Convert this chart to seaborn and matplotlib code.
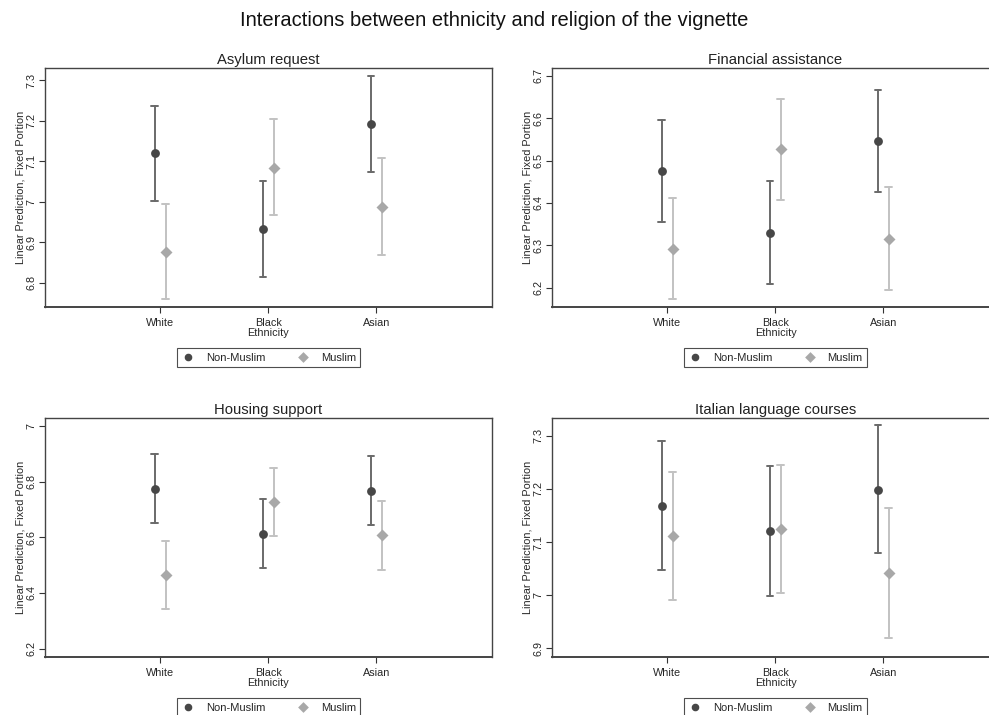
import numpy as np
import pandas as pd
import matplotlib
matplotlib.use("Agg")
import matplotlib.pyplot as plt
from matplotlib.colors import to_hex
from matplotlib.ticker import MultipleLocator, FuncFormatter
import seaborn as sns

# Point estimates and 95% CIs
ethnicity = ["White", "Black", "Asian"]
religion = ["Non-Muslim", "Muslim"]

asylum_nm_est = [7.119, 6.932, 7.191]
asylum_nm_lo = [7.001, 6.814, 7.074]
asylum_nm_hi = [7.237, 7.051, 7.310]
asylum_m_est = [6.876, 7.084, 6.987]
asylum_m_lo = [6.760, 6.968, 6.868]
asylum_m_hi = [6.995, 7.203, 7.107]

financial_nm_est = [6.476, 6.330, 6.545]
financial_nm_lo = [6.356, 6.209, 6.426]
financial_nm_hi = [6.595, 6.451, 6.665]
financial_m_est = [6.292, 6.527, 6.315]
financial_m_lo = [6.174, 6.408, 6.194]
financial_m_hi = [6.412, 6.646, 6.437]

housing_nm_est = [6.774, 6.613, 6.767]
housing_nm_lo = [6.652, 6.490, 6.645]
housing_nm_hi = [6.899, 6.737, 6.890]
housing_m_est = [6.466, 6.725, 6.607]
housing_m_lo = [6.344, 6.604, 6.483]
housing_m_hi = [6.587, 6.849, 6.730]

italian_nm_est = [7.168, 7.120, 7.198]
italian_nm_lo = [7.048, 6.999, 7.079]
italian_nm_hi = [7.289, 7.242, 7.319]
italian_m_est = [7.111, 7.125, 7.042]
italian_m_lo = [6.992, 7.005, 6.920]
italian_m_hi = [7.232, 7.244, 7.163]

panels = [
    ("Asylum request", (asylum_nm_lo, asylum_nm_est, asylum_nm_hi),
     (asylum_m_lo, asylum_m_est, asylum_m_hi), (6.74, 7.33), 0.1),
    ("Financial assistance", (financial_nm_lo, financial_nm_est, financial_nm_hi),
     (financial_m_lo, financial_m_est, financial_m_hi), (6.155, 6.718), 0.1),
    ("Housing support", (housing_nm_lo, housing_nm_est, housing_nm_hi),
     (housing_m_lo, housing_m_est, housing_m_hi), (6.170, 7.028), 0.2),
    ("Italian language courses", (italian_nm_lo, italian_nm_est, italian_nm_hi),
     (italian_m_lo, italian_m_est, italian_m_hi), (6.884, 7.333), 0.1),
]


def to_long(nm, m):
    rows = []
    for rel, vals in zip(religion, [nm, m]):
        for arr in vals:
            for eth, v in zip(ethnicity, arr):
                rows.append({"ethnicity": eth, "religion": rel, "value": v})
    return pd.DataFrame(rows)


sns.set_style("white")
plt.rcParams["font.family"] = ["Liberation Sans", "DejaVu Sans"]

fig = plt.figure(figsize=(9.89, 7.15), dpi=100)
W, H = 989, 715
boxes = [(45, 68, 447, 239), (552, 68, 447, 239),
         (45, 418, 447, 239), (552, 418, 447, 239)]

palette = {"Non-Muslim": "#474747", "Muslim": "#a8a8a8"}
err_colors = {"#474747": "#6a6a6a", "#a8a8a8": "#c2c2c2"}

for (title, nm, m, ylim, step), (x0, y0, w, h) in zip(panels, boxes):
    ax = fig.add_axes([x0 / W, 1 - (y0 + h) / H, w / W, h / H])
    df = to_long(nm, m)
    sns.pointplot(data=df, x="ethnicity", y="value", hue="religion",
                  order=ethnicity, hue_order=religion, palette=palette,
                  estimator=np.median,
                  errorbar=lambda v: (np.min(v), np.max(v)),
                  dodge=0.1, markers=["o", "D"], linestyles="none",
                  capsize=0.06, err_kws={"linewidth": 1.4},
                  markersize=4.3, ax=ax)
    # error bars a shade lighter than the markers
    for ln in ax.lines:
        if ln.get_marker() in ("None", "", None):
            c = to_hex(ln.get_color())
            ln.set_color(err_colors.get(c, c))
            ln.set_zorder(1)
    handles, labels = ax.get_legend_handles_labels()
    ax.get_legend().remove()
    ax.set_xlim(-1.065, 3.07)
    ax.set_ylim(*ylim)
    ax.yaxis.set_major_locator(MultipleLocator(step))
    ax.yaxis.set_major_formatter(FuncFormatter(lambda v, p: f"{v:g}"))
    ax.tick_params(axis="y", labelrotation=90, labelsize=7.8, length=4,
                   width=0.8, color="#333333", left=True, pad=2)
    for lab in ax.get_yticklabels():
        lab.set_va("center")
    ax.tick_params(axis="x", labelsize=7.8, length=4, width=0.8,
                   color="#333333", bottom=True, pad=4)
    ax.set_xlabel("Ethnicity", fontsize=7.8, labelpad=0)
    ax.set_ylabel("Linear Prediction, Fixed Portion", fontsize=7.8, labelpad=1)
    ax.set_title(title, fontsize=10.7, pad=3, color="#222222")
    for s in ax.spines.values():
        s.set_color("#444444")
        s.set_linewidth(1.0)
    ax.spines["bottom"].set_linewidth(1.4)
    ax.legend(handles, labels, ncol=2, loc="upper center",
              bbox_to_anchor=(0.5, -0.15), fontsize=8, frameon=True,
              fancybox=False, edgecolor="#222222", columnspacing=2.8,
              handletextpad=1.0, borderpad=0.4, handlelength=1.2,
              markerscale=0.8)
    ax.get_legend().get_frame().set_linewidth(0.8)

fig.suptitle("Interactions between ethnicity and religion of the vignette",
             fontsize=14.5, y=0.985, color="#111111")

fig.savefig("out.png", dpi=100)
